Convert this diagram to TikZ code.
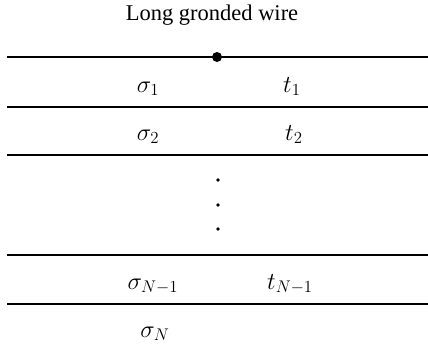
\documentclass[tikz,border=0pt]{standalone}
\usepackage{fontspec}
\setmainfont{Liberation Serif}
\usetikzlibrary{positioning}

\begin{document}
\begin{tikzpicture}[
  x=0.025cm,y=-0.025cm,font=\fontsize{16}{19}\selectfont,
  line cap=butt,
  surface/.style={black,line width=1.2pt},
  interface/.style={black,line width=1.8pt},
  layerlabel/.style={inner sep=0pt,anchor=base,font=\fontsize{18}{21}\selectfont}
]
  \useasboundingbox (0,0) rectangle (428,344);

  % Ground surface with the grounded wire.
  \coordinate (SL) at (7,57);
  \coordinate (SR) at (428,57);
  \coordinate (wire) at (217,57);
  \draw[surface] (SL) -- (SR);
  \fill (wire) circle[radius=5];
  \node[inner sep=0pt] (title) at (212,15) {Long gronded wire};

  % Layer interfaces.
  \foreach \ylev in {107,155,255,304}
    \draw[interface] (7,\ylev) -- (428,\ylev);

  % Conductivities and thicknesses.
  \node[layerlabel] (s1) at (148,92) {$\sigma_1$};
  \node[layerlabel] (t1) at (292,92) {$t_1$};
  \node[layerlabel] (s2) at (148,140) {$\sigma_2$};
  \node[layerlabel] (t2) at (294,140) {$t_2$};
  \node[layerlabel] (sN1) at (153,289) {$\sigma_{N-1}$};
  \node[layerlabel] (tN1) at (290,289) {$t_{N-1}$};
  \node[layerlabel] (sN) at (155,337) {$\sigma_N$};

  % Omitted layers.
  \foreach \ylev in {180,205,229}
    \fill (218,\ylev) circle[radius=1.8];
\end{tikzpicture}
\end{document}
